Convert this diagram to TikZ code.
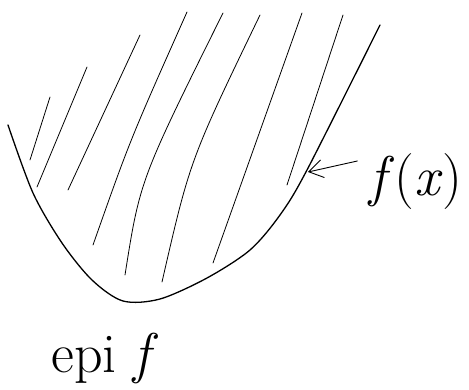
\documentclass[tikz,border=0pt]{standalone}
\usepackage{fontspec}
\usetikzlibrary{arrows.meta}
\begin{document}
\begin{tikzpicture}[x=1pt,y=-1pt,
  curve/.style={line width=1.3pt,line cap=round,line join=round},
  hatch/.style={line width=0.8pt,line cap=round},
  lbl/.style={inner sep=0pt,font=\fontsize{56}{60}\selectfont}]
\useasboundingbox (0,0) rectangle (469,390);
% graph of f
\draw[curve] plot[smooth,tension=0.5] coordinates{(8,125) (33,193) (62,243) (92,280) (123,301) (160,299) (207,278) (250,250) (280,215) (307,170) (380,25)};
% hatching of the epigraph
\draw[hatch] (50,97) -- (30,160);
\draw[hatch] (87,67) -- (37,187);
\draw[hatch] (140,35) -- (68,190);
\draw[hatch] (187,12) .. controls (130,140) .. (93,245);
\draw[hatch] (223,13) .. controls (140,180) .. (125,275);
\draw[hatch] (260,15) .. controls (190,160) .. (162,282);
\draw[hatch] (302,13) -- (213,263);
\draw[hatch] (343,15) -- (287,185);
% label f(x)
\node[lbl] (fx) at (416,182) {\textit{f}(\textit{x})};
\coordinate (tip) at (308,172);
\draw[line width=0.9pt,line cap=round,-{Straight Barb[length=14pt,width=18pt]}] (fx.west) ++(-12,-21) -- (tip);
% label epi f
\node[lbl] (epi) at (105,358) {epi \textit{f}};
\end{tikzpicture}
\end{document}
